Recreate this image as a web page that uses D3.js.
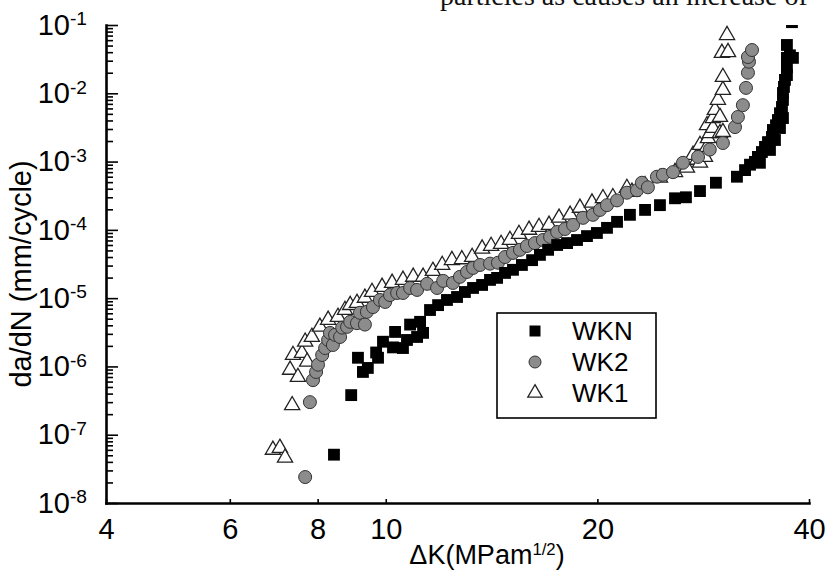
<!DOCTYPE html>
<html>
<head>
<meta charset="utf-8">
<script src="https://cdn.jsdelivr.net/npm/d3@7"></script>
<style>
  body { margin: 0; background: #fff; }
  svg { display: block; font-family: 'Liberation Sans', Arial, sans-serif; }
</style>
</head>
<body>
<div id="chart"></div>
<script>
// series: [deltaK (MPa m^1/2), da/dN (mm/cycle)]
const wknPoints = [
  [8.44, 5.1e-8], [8.93, 3.8e-7], [9.13, 1.34e-6], [9.28, 8.3e-7], [9.43, 9.5e-7], [9.69, 1.6e-6],
  [9.75, 1.34e-6], [9.91, 2.3e-6], [10.24, 1.9e-6], [10.31, 3.2e-6], [10.58, 1.86e-6], [10.72, 2.44e-6],
  [10.83, 4.1e-6], [11.08, 2.7e-6], [11.19, 4.5e-6], [11.30, 3.1e-6], [11.56, 6.7e-6], [11.87, 7.9e-6],
  [12.22, 9.4e-6], [12.63, 1.04e-5], [12.96, 1.23e-5], [13.31, 1.41e-5], [13.71, 1.56e-5], [14.07, 1.85e-5],
  [14.40, 1.98e-5], [14.78, 2.34e-5], [15.17, 2.6e-5], [15.62, 3.06e-5], [16.15, 3.6e-5], [16.57, 4.3e-5],
  [17.02, 5.1e-5], [17.53, 6.0e-5], [18.11, 6.4e-5], [18.71, 7.1e-5], [19.33, 8.1e-5], [19.97, 9.0e-5],
  [20.64, 1.07e-4], [21.33, 1.31e-4], [22.25, 1.66e-4], [23.38, 1.96e-4], [24.55, 2.3e-4], [25.79, 2.9e-4],
  [26.73, 3.0e-4], [27.99, 3.7e-4], [29.49, 4.9e-4], [31.59, 6.0e-4], [32.44, 7.5e-4], [32.97, 9.0e-4],
  [33.51, 9.9e-4], [33.84, 1.17e-3], [34.06, 9.6e-4], [34.28, 1.38e-3], [34.63, 1.64e-3], [34.97, 1.93e-3],
  [35.20, 1.48e-3], [35.43, 2.3e-3], [35.54, 2.9e-3], [35.78, 2.07e-3], [35.90, 3.4e-3], [36.13, 4.06e-3],
  [36.37, 5.1e-3], [36.37, 3.1e-3], [36.61, 6.3e-3], [36.73, 8.0e-3], [36.73, 4.34e-3], [36.73, 1.01e-2],
  [36.85, 1.24e-2], [36.97, 1.57e-2], [37.21, 1.85e-2], [37.21, 2.4e-2], [37.21, 3.3e-2], [37.95, 3.3e-2],
  [37.58, 3.6e-2], [37.21, 5.1e-2], [37.83, 1.1e-1]
]

const wk2Points = [
  [7.68, 2.4e-8], [7.80, 3.0e-7], [7.88, 6.3e-7], [7.96, 8.3e-7], [8.01, 1.06e-6], [8.12, 1.47e-6],
  [8.20, 1.86e-6], [8.28, 2.44e-6], [8.41, 2.06e-6], [8.33, 3.1e-6], [8.47, 2.9e-6], [8.61, 2.7e-6],
  [8.67, 3.7e-6], [8.81, 3.8e-6], [8.90, 4.5e-6], [9.10, 4.3e-6], [9.19, 6.1e-6], [9.34, 4.1e-6],
  [9.40, 6.3e-6], [9.59, 7.4e-6], [9.81, 9.4e-6], [9.98, 8.8e-6], [10.14, 1.11e-5], [10.38, 1.19e-5],
  [10.58, 1.19e-5], [10.83, 1.41e-5], [11.08, 1.32e-5], [11.45, 1.62e-5], [11.83, 1.41e-5], [12.07, 1.79e-5],
  [12.46, 1.67e-5], [12.75, 2.05e-5], [13.05, 2.42e-5], [13.31, 2.77e-5], [13.62, 3.06e-5], [14.07, 3.2e-5],
  [14.44, 3.3e-5], [14.78, 4.0e-5], [15.17, 4.6e-5], [15.52, 5.1e-5], [15.88, 5.8e-5], [16.30, 6.4e-5],
  [16.73, 7.1e-5], [17.13, 7.9e-5], [17.53, 9.3e-5], [17.99, 1.03e-4], [18.47, 1.18e-4], [19.08, 1.5e-4],
  [19.71, 1.66e-4], [20.17, 1.96e-4], [20.64, 2.3e-4], [21.33, 2.7e-4], [22.03, 3.5e-4], [22.77, 3.8e-4],
  [23.14, 4.9e-4], [23.60, 4.2e-4], [24.31, 6.0e-4], [24.79, 6.4e-4], [25.62, 7.0e-4], [26.47, 9.6e-4],
  [27.81, 1.17e-3], [28.90, 1.5e-3], [30.17, 1.87e-3], [31.39, 3.2e-3], [31.69, 4.5e-3], [32.21, 6.7e-3],
  [32.54, 1.2e-2], [32.75, 2.0e-2], [32.86, 2.9e-2], [32.75, 3.4e-2], [33.19, 4.3e-2]
]

const wk1Points = [
  [6.91, 6.0e-8], [7.07, 6.4e-8], [7.19, 4.6e-8], [7.36, 2.7e-7], [7.31, 8.9e-7], [7.50, 7.0e-7],
  [7.38, 1.47e-6], [7.60, 1.57e-6], [7.73, 1.17e-6], [7.68, 2.3e-6], [7.85, 2.7e-6], [8.06, 3.8e-6],
  [8.28, 4.8e-6], [8.55, 5.3e-6], [8.75, 6.7e-6], [8.90, 7.9e-6], [9.10, 8.5e-6], [9.34, 1.01e-5],
  [9.56, 1.23e-5], [9.88, 1.46e-5], [10.21, 1.67e-5], [10.58, 1.85e-5], [10.94, 2.05e-5], [11.30, 2.05e-5],
  [11.67, 2.5e-5], [12.03, 3.06e-5], [12.42, 3.6e-5], [12.83, 3.7e-5], [13.27, 4.0e-5], [13.71, 5.3e-5],
  [14.12, 5.8e-5], [14.59, 6.2e-5], [15.02, 7.1e-5], [15.47, 8.7e-5], [15.99, 1.0e-4], [16.52, 1.10e-4],
  [17.07, 1.18e-4], [17.64, 1.5e-4], [18.29, 1.66e-4], [18.89, 2.1e-4], [19.65, 2.5e-4], [20.37, 2.9e-4],
  [21.04, 3.0e-4], [22.03, 4.1e-4], [22.40, 3.6e-4], [23.38, 4.5e-4], [24.55, 5.8e-4], [25.79, 7.0e-4],
  [26.82, 8.1e-4], [27.35, 1.25e-3], [27.72, 1.06e-3], [27.99, 9.6e-4], [27.99, 1.75e-3], [28.45, 1.17e-3],
  [28.64, 1.64e-3], [28.73, 2.2e-3], [28.64, 3.4e-3], [28.92, 2.6e-3], [29.20, 3.1e-3], [29.20, 4.3e-3],
  [29.39, 5.7e-3], [29.88, 4.5e-3], [29.88, 2.6e-3], [30.17, 2.7e-3], [29.68, 8.0e-3], [30.17, 1.12e-2],
  [30.17, 1.73e-2], [30.07, 3.9e-2], [30.68, 4.0e-2], [30.58, 7.1e-2]
]

const seriesNames = ['WKN', 'WK2', 'WK1']
const xTicks = [4, 6, 8, 10, 20, 40]
const yExponents = [-8, -7, -6, -5, -4, -3, -2, -1]

const width = 825
const height = 570
const margin = { top: 25, right: 16, bottom: 67, left: 106 }

const svg = d3
  .select('#chart')
  .append('svg')
  .attr('width', width)
  .attr('height', height)

const x = d3.scaleLog().domain([4, 40]).range([margin.left, width - margin.right])
const y = d3.scaleLog().domain([1e-8, 1e-1]).range([height - margin.bottom, margin.top])

// cut-off line of the page text above the figure
svg
  .append('text')
  .attr('x', 440)
  .attr('y', 5)
  .attr('font-family', "'Liberation Serif', 'Times New Roman', serif")
  .attr('font-size', 28)
  .attr('fill', '#111')
  .text('particles as causes an increase of')

svg
  .append('defs')
  .append('clipPath')
  .attr('id', 'plot-clip')
  .append('rect')
  .attr('x', margin.left)
  .attr('y', margin.top)
  .attr('width', width - margin.left)
  .attr('height', height - margin.top - margin.bottom)

const marks = svg.append('g').attr('clip-path', 'url(#plot-clip)')

const triangle = d3.symbol().type(d3.symbolTriangle).size(100)
const square = d3.symbol().type(d3.symbolSquare).size(140)

marks
  .append('g')
  .selectAll('path')
  .data(wk1Points)
  .enter()
  .append('path')
  .attr('d', triangle)
  .attr('transform', d => `translate(${x(d[0])},${y(d[1])})`)
  .attr('fill', '#fff')
  .attr('stroke', '#222')
  .attr('stroke-width', 1.3)

marks
  .append('g')
  .selectAll('circle')
  .data(wk2Points)
  .enter()
  .append('circle')
  .attr('cx', d => x(d[0]))
  .attr('cy', d => y(d[1]))
  .attr('r', 6.5)
  .attr('fill', '#8c8c8c')
  .attr('stroke', '#333')
  .attr('stroke-width', 1)

marks
  .append('g')
  .selectAll('path')
  .data(wknPoints)
  .enter()
  .append('path')
  .attr('d', square)
  .attr('transform', d => `translate(${x(d[0])},${y(d[1])})`)
  .attr('fill', '#000')

// axes
const yMajor = yExponents.map(e => Math.pow(10, e))
const yMinor = []
yExponents.slice(0, -1).forEach(e => {
  for (let m = 2; m <= 9; m++) yMinor.push(m * Math.pow(10, e))
})

const yMinorAxis = svg
  .append('g')
  .attr('transform', `translate(${margin.left},0)`)
  .call(d3.axisLeft(y).tickValues(yMinor).tickSize(-7).tickSizeOuter(0).tickFormat(''))
yMinorAxis.select('.domain').remove()

const yAxis = svg
  .append('g')
  .attr('transform', `translate(${margin.left},0)`)
  .call(d3.axisLeft(y).tickValues(yMajor).tickSize(-12).tickSizeOuter(0).tickPadding(19))

yAxis.selectAll('text').each(function (d) {
  const t = d3.select(this)
  t.text('')
  t.append('tspan').text('10')
  t.append('tspan').attr('dy', '-0.5em').attr('font-size', '0.66em').text(Math.round(Math.log10(d)))
})

const xAxis = svg
  .append('g')
  .attr('transform', `translate(0,${height - margin.bottom})`)
  .call(d3.axisBottom(x).tickValues(xTicks).tickSize(-4).tickSizeOuter(0).tickPadding(15).tickFormat(d3.format('d')))

svg.selectAll('.tick line').attr('stroke', '#000').attr('stroke-width', 1.6)
svg.selectAll('.domain').attr('stroke', '#000').attr('stroke-width', 2.6).attr('stroke-linecap', 'square')
yAxis.selectAll('text').attr('font-size', 29).attr('fill', '#000')
xAxis.selectAll('text').attr('font-size', 29).attr('fill', '#000')

// axis titles
svg
  .append('text')
  .attr('transform', `translate(31,274) rotate(-90)`)
  .attr('text-anchor', 'middle')
  .attr('font-size', 29)
  .text('da/dN (mm/cycle)')

const xTitle = svg
  .append('text')
  .attr('x', 487)
  .attr('y', 564)
  .attr('text-anchor', 'middle')
  .attr('font-size', 27)
xTitle.append('tspan').text('\u0394K(MPam')
xTitle.append('tspan').attr('dy', '-0.55em').attr('font-size', '0.62em').text('1/2')
xTitle.append('tspan').attr('dy', '0.34em').text(')')

// legend
const legend = svg.append('g').attr('transform', 'translate(497,313)')
legend
  .append('rect')
  .attr('width', 159)
  .attr('height', 105)
  .attr('fill', '#fff')
  .attr('stroke', '#000')
  .attr('stroke-width', 1.6)

const legendSymbols = [
  g => g.append('path').attr('d', d3.symbol().type(d3.symbolSquare).size(121)).attr('fill', '#000'),
  g => g.append('circle').attr('r', 6).attr('fill', '#8c8c8c').attr('stroke', '#333'),
  g => g.append('path').attr('d', d3.symbol().type(d3.symbolTriangle).size(90)).attr('fill', '#fff').attr('stroke', '#222').attr('stroke-width', 1.3)
]

seriesNames.forEach((name, i) => {
  const row = legend.append('g').attr('transform', `translate(38,${18 + i * 31})`)
  legendSymbols[i](row)
  row
    .append('text')
    .attr('x', 37)
    .attr('dy', '0.36em')
    .attr('font-size', 26)
    .text(name)
})
</script>
</body>
</html>
